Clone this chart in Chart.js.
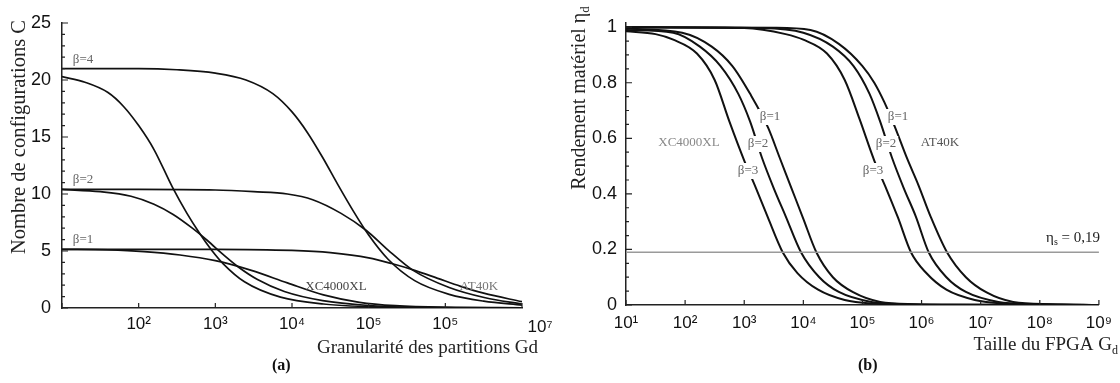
<!DOCTYPE html>
<html>
<head>
<meta charset="utf-8">
<script src="https://cdn.jsdelivr.net/npm/chart.js@4.4.0/dist/chart.umd.min.js"></script>
<style>
  body { margin: 0; background: #fff; width: 1120px; height: 383px; position: relative; overflow: hidden; }
  canvas { position: absolute; top: 0; }
  #chartA { left: 0; }
  #chartB { left: 560px; }
  .cap { position: absolute; top: 356px; font: bold 16px 'Liberation Serif', serif; line-height: 18px; color: #111; }
</style>
</head>
<body>
<canvas id="chartA" width="560" height="383"></canvas>
<canvas id="chartB" width="560" height="383"></canvas>
<div class="cap" style="left:272px">(a)</div>
<div class="cap" style="left:858px">(b)</div>
<script>
// ---- (a) Nombre de configurations C vs log10(Gd) ----
const leftXTicks = [1, 2, 3, 4, 5, 6, 7];
const leftXLabels = ['', '10²', '10³', '10⁴', '10⁵', '10⁵', '10⁷'];
const leftYTicks = [0, 5, 10, 15, 20, 25];

const logG_at4 = [1, 2, 2.5, 3, 3.4, 3.75, 4.0, 4.2, 4.4, 4.6, 4.8, 5.0, 5.25, 5.6, 6.05, 6.5, 7];
const c_at4    = [21.0, 21.0, 20.9, 20.6, 20.0, 18.8, 17.2, 15.4, 13.2, 10.8, 8.5, 6.4, 4.3, 2.4, 1.2, 0.6, 0.25];
const logG_at2 = [1, 2, 3, 3.5, 3.94, 4.27, 4.64, 4.97, 5.25, 5.58, 6.05, 6.52, 7];
const c_at2    = [10.4, 10.4, 10.35, 10.2, 10.0, 9.5, 8.3, 6.8, 5.1, 3.3, 1.8, 0.9, 0.35];
const logG_at1 = [1, 2, 3, 4.0, 4.5, 5.0, 5.3, 5.6, 5.9, 6.2, 6.5, 7];
const c_at1    = [5.15, 5.15, 5.15, 5.05, 4.85, 4.4, 3.9, 3.3, 2.6, 1.9, 1.3, 0.55];

const logG_xc4 = [1, 1.3, 1.6, 1.8, 2.0, 2.2, 2.44, 2.63, 2.79, 2.96, 3.1, 3.38, 3.85, 4.41, 5.35, 7];
const c_xc4    = [20.3, 19.8, 18.9, 17.7, 16.0, 13.9, 10.6, 8.3, 6.6, 5.0, 3.9, 2.3, 0.95, 0.35, 0.06, 0.01];
const logG_xc2 = [1, 1.5, 1.9, 2.2, 2.45, 2.7, 2.9, 3.1, 3.3, 3.55, 3.9, 4.4, 5.0, 5.6, 7];
const c_xc2    = [10.4, 10.2, 9.8, 9.1, 8.2, 7.0, 5.9, 4.7, 3.6, 2.5, 1.45, 0.65, 0.22, 0.07, 0.01];
const logG_xc1 = [1, 1.6, 2.07, 2.54, 3.0, 3.47, 3.94, 4.41, 4.88, 5.35, 6, 7];
const c_xc1    = [5.15, 5.1, 4.95, 4.65, 4.15, 3.3, 2.2, 1.15, 0.5, 0.2, 0.06, 0.02];

// ---- (b) Rendement matériel vs log10(taille FPGA) ----
const rightXTicks = [1, 2, 3, 4, 5, 6, 7, 8, 9];
const rightXLabels = ['10¹', '10²', '10³', '10⁴', '10⁵', '10⁶', '10⁷', '10⁸', '10⁹'];
const rightYTicks = [0, 0.2, 0.4, 0.6, 0.8, 1];
const rightYLabels = ['0', '0.2', '0.4', '0.6', '0.8', '1'];
const etaS = 0.19;

const logF_xc3 = [1, 1.5, 1.8, 2.2, 2.5, 2.75, 3.0, 3.2, 3.4, 3.65, 3.9, 4.25, 4.7, 5.2, 6, 9];
const eta_xc3  = [0.985, 0.975, 0.955, 0.905, 0.81, 0.66, 0.52, 0.42, 0.315, 0.19, 0.115, 0.055, 0.018, 0.005, 0.001, 0];
const logF_xc2 = [1, 1.8, 2.25, 2.6, 2.9, 3.1, 3.3, 3.5, 3.7, 3.96, 4.27, 4.6, 5.15, 5.7, 6.5, 9];
const eta_xc2  = [0.99, 0.98, 0.93, 0.86, 0.76, 0.66, 0.53, 0.42, 0.32, 0.19, 0.10, 0.047, 0.011, 0.003, 0.001, 0];
const logF_xc1 = [1, 1.95, 2.45, 2.8, 3.1, 3.4, 3.6, 3.8, 4.0, 4.22, 4.5, 4.85, 5.3, 5.9, 6.7, 9];
const eta_xc1  = [0.995, 0.98, 0.93, 0.86, 0.76, 0.64, 0.53, 0.42, 0.31, 0.19, 0.10, 0.045, 0.011, 0.003, 0.001, 0];

const logF_at3 = [1, 3, 3.7, 4.0, 4.4, 4.7, 4.95, 5.2, 5.4, 5.6, 5.82, 6.08, 6.42, 6.9, 7.4, 8.2, 9];
const eta_at3  = [1.0, 0.997, 0.975, 0.955, 0.905, 0.81, 0.67, 0.52, 0.42, 0.315, 0.19, 0.115, 0.055, 0.018, 0.005, 0.001, 0];
const logF_at2 = [1, 3.3, 4.0, 4.5, 4.85, 5.12, 5.3, 5.5, 5.7, 5.9, 6.12, 6.42, 6.75, 7.3, 7.9, 8.6, 9];
const eta_at2  = [1.0, 0.997, 0.98, 0.93, 0.86, 0.76, 0.66, 0.53, 0.42, 0.32, 0.19, 0.10, 0.047, 0.011, 0.003, 0.001, 0];
const logF_at1 = [1, 3.5, 4.12, 4.6, 5.0, 5.2, 5.37, 5.55, 5.75, 5.95, 6.15, 6.43, 6.75, 7.1, 7.55, 8.2, 9];
const eta_at1  = [1.0, 0.998, 0.99, 0.94, 0.86, 0.80, 0.73, 0.64, 0.53, 0.43, 0.32, 0.19, 0.10, 0.045, 0.011, 0.003, 0];

function pts(xs, ys) {
  return xs.map((x, i) => ({ x: x, y: ys[i] }));
}

function curve(xs, ys, width) {
  return { data: pts(xs, ys), borderColor: '#111', borderWidth: width, pointRadius: 0, cubicInterpolationMode: 'monotone', fill: false };
}

// texte avec indices (sub)
function drawRich(ctx, parts, x, y, size, align) {
  const subSize = Math.round(size * 0.65);
  let w = 0;
  parts.forEach(p => {
    ctx.font = (p.sub ? subSize : size) + "px 'Liberation Serif', serif";
    w += ctx.measureText(p.t).width;
  });
  let cx = align === 'right' ? x - w : (align === 'center' ? x - w / 2 : x);
  ctx.textAlign = 'left';
  ctx.textBaseline = 'middle';
  parts.forEach(p => {
    ctx.font = (p.sub ? subSize : size) + "px 'Liberation Serif', serif";
    ctx.fillText(p.t, cx, p.sub ? y + size * 0.3 : y);
    cx += ctx.measureText(p.t).width;
  });
}

const decor = {
  id: 'decor',
  afterDraw(chart, args, o) {
    const ctx = chart.ctx, xs = chart.scales.x, ys = chart.scales.y, a = chart.chartArea;
    ctx.save();
    ctx.strokeStyle = '#222';
    ctx.lineWidth = 1.2;
    ctx.beginPath();
    o.xTicks.forEach(v => {
      const px = xs.getPixelForValue(v);
      ctx.moveTo(px, a.bottom); ctx.lineTo(px, a.bottom - 5);
    });
    o.yTicks.forEach(v => {
      const py = ys.getPixelForValue(v);
      ctx.moveTo(a.left, py); ctx.lineTo(a.left + 6, py);
    });
    for (let v = 0; v <= ys.max + 1e-9; v += o.yMinor) {
      const py = ys.getPixelForValue(v);
      ctx.moveTo(a.left, py); ctx.lineTo(a.left + 3, py);
    }
    ctx.stroke();

    // étiquettes des courbes
    o.labels.forEach(l => {
      ctx.font = "13px 'Liberation Serif', serif";
      const w = ctx.measureText(l.t).width;
      if (l.box) {
        ctx.fillStyle = '#fff';
        ctx.fillRect(l.x - w / 2 - 2, l.y - 8, w + 4, 16);
      }
      ctx.fillStyle = l.c || '#666';
      ctx.textAlign = 'center';
      ctx.textBaseline = 'middle';
      ctx.fillText(l.t, l.x, l.y);
    });

    ctx.fillStyle = '#222';
    (o.rich || []).forEach(r => drawRich(ctx, r.parts, r.x, r.y, r.size, r.align));

    // titre vertical
    ctx.save();
    ctx.translate(o.yTitle.x, o.yTitle.y);
    ctx.rotate(-Math.PI / 2);
    ctx.fillStyle = '#222';
    drawRich(ctx, o.yTitle.parts, 0, 0, o.yTitle.size, 'center');
    ctx.restore();

    if (o.extraTick) {
      ctx.font = "17px 'Liberation Sans', Arial, sans-serif";
      ctx.fillStyle = '#111';
      ctx.textAlign = 'center';
      ctx.textBaseline = 'middle';
      ctx.fillText(o.extraTick.t, o.extraTick.x, o.extraTick.y);
    }
    ctx.restore();
  }
};

function makeChart(id, cfg) {
  return new Chart(document.getElementById(id), {
    type: 'line',
    data: { datasets: cfg.datasets },
    options: {
      responsive: false,
      animation: false,
      layout: { padding: cfg.padding },
      plugins: { legend: { display: false }, tooltip: { enabled: false }, decor: cfg.decor },
      scales: {
        x: {
          type: 'linear', min: cfg.xMin, max: cfg.xMax,
          afterBuildTicks: s => { s.ticks = cfg.xTicks.map(v => ({ value: v })); },
          afterFit: s => { s.height = cfg.xH; },
          grid: { display: false, drawTicks: false },
          border: { color: '#222', width: 1.5 },
          ticks: {
            padding: cfg.xPad, autoSkip: false, maxRotation: 0, color: '#111',
            font: { family: "'Liberation Sans', Arial, sans-serif", size: 17 },
            callback: (v, i) => cfg.xLabels[i]
          }
        },
        y: {
          type: 'linear', min: 0, max: cfg.yMax,
          afterBuildTicks: s => { s.ticks = cfg.yTicks.map(v => ({ value: v })); },
          afterFit: s => { s.width = cfg.yW; },
          grid: { display: false, drawTicks: false },
          border: { color: '#222', width: 1.5 },
          ticks: {
            padding: cfg.yPad, color: '#111',
            font: { family: "'Liberation Sans', Arial, sans-serif", size: 18 },
            callback: (v, i) => cfg.yLabels[i]
          }
        }
      }
    },
    plugins: [decor]
  });
}

makeChart('chartA', {
  datasets: [
    curve(logG_at4, c_at4, 1.7), curve(logG_at2, c_at2, 1.7), curve(logG_at1, c_at1, 1.7),
    curve(logG_xc4, c_xc4, 1.7), curve(logG_xc2, c_xc2, 1.7), curve(logG_xc1, c_xc1, 1.7)
  ],
  padding: { top: 23, right: 38, left: 0, bottom: 0 },
  xMin: 1, xMax: 7, xTicks: leftXTicks, xLabels: leftXLabels.map((t, i) => i === 6 ? '' : t), xH: 75, xPad: 6,
  yMax: 25, yTicks: leftYTicks, yLabels: leftYTicks.map(String), yW: 62, yPad: 11,
  decor: {
    xTicks: leftXTicks, yTicks: leftYTicks, yMinor: 1,
    labels: [
      { t: 'β=4', x: 83, y: 60 }, { t: 'β=2', x: 83, y: 180 }, { t: 'β=1', x: 83, y: 240 },
      { t: 'XC4000XL', x: 336, y: 287, c: '#444' }, { t: 'AT40K', x: 479, y: 287, c: '#777' }
    ],
    rich: [{ parts: [{ t: 'Granularité des partitions Gd' }], x: 538, y: 348, size: 19, align: 'right' }],
    yTitle: { parts: [{ t: 'Nombre de configurations C' }], x: 20, y: 137, size: 20.5 },
    extraTick: { t: leftXLabels[6], x: 540, y: 327 }
  }
});

makeChart('chartB', {
  datasets: [
    { data: pts([1, 9], [etaS, etaS]), borderColor: '#9a9a9a', borderWidth: 1.5, pointRadius: 0 },
    curve(logF_xc3, eta_xc3, 2), curve(logF_xc2, eta_xc2, 2), curve(logF_xc1, eta_xc1, 2),
    curve(logF_at3, eta_at3, 2), curve(logF_at2, eta_at2, 2), curve(logF_at1, eta_at1, 2)
  ],
  padding: { top: 23, right: 20, left: 0, bottom: 0 },
  xMin: 1, xMax: 9, xTicks: rightXTicks, xLabels: rightXLabels, xH: 78, xPad: 8,
  yMax: 1.015, yTicks: rightYTicks, yLabels: rightYLabels, yW: 66, yPad: 9,
  decor: {
    xTicks: rightXTicks, yTicks: rightYTicks, yMinor: 0.05,
    labels: [
      { t: 'β=1', x: 210, y: 117, box: true }, { t: 'β=2', x: 198, y: 144, box: true }, { t: 'β=3', x: 188, y: 171, box: true },
      { t: 'XC4000XL', x: 129, y: 143, c: '#888' },
      { t: 'β=1', x: 338, y: 117, box: true }, { t: 'β=2', x: 326, y: 144, box: true }, { t: 'β=3', x: 313, y: 171, box: true },
      { t: 'AT40K', x: 380, y: 143, c: '#555' }
    ],
    rich: [
      { parts: [{ t: 'Taille du FPGA G' }, { t: 'd', sub: true }], x: 558, y: 345, size: 19, align: 'right' },
      { parts: [{ t: 'η' }, { t: 's', sub: true }, { t: ' = 0,19' }], x: 540, y: 238, size: 15, align: 'right' }
    ],
    yTitle: { parts: [{ t: 'Rendement matériel η' }, { t: 'd', sub: true }], x: 20, y: 98, size: 20 }
  }
});
</script>
</body>
</html>
